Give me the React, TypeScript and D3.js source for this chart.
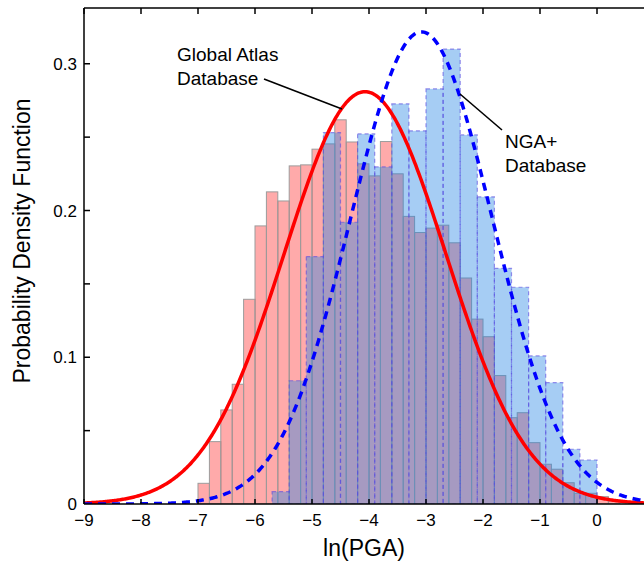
import React from 'react';
import * as d3 from 'd3';

// Global Atlas histogram: bin width 0.2, starting at ln(PGA) = -7.0
const atlasStart = -7.0;
const atlasWidth = 0.2;
const atlasDensity = [
  0.0141, 0.0425, 0.0641, 0.0816, 0.1395, 0.1895, 0.2127, 0.2065, 0.2304, 0.2311,
  0.2418, 0.2454, 0.2618, 0.2467, 0.2318, 0.2236, 0.247, 0.225, 0.196, 0.185,
  0.188, 0.19, 0.178, 0.154, 0.126, 0.114, 0.0875, 0.0588, 0.0622, 0.0418,
  0.0271, 0.0237, 0.0145, 0.0073, 0.0073, 0.005, 0.002,
];

// NGA+ histogram: bin width 0.3, starting at -5.7
const ngaStart = -5.7;
const ngaWidth = 0.3;
const ngaDensity = [
  0.0084, 0.084, 0.1686, 0.2531, 0.192, 0.2522, 0.2297, 0.2727, 0.2543, 0.2829,
  0.31, 0.2515, 0.2093, 0.1606, 0.1477, 0.1009, 0.0827, 0.0373, 0.03,
];

// fitted normal distributions (mean, std)
const atlasFit = { mu: -4.07, sigma: 1.42 };
const ngaFit = { mu: -3.08, sigma: 1.24 };

const xTicks = [-9, -8, -7, -6, -5, -4, -3, -2, -1, 0];
const yTickLabels = [0, 0.1, 0.2, 0.3];
const yMinorTicks = [0.05, 0.1, 0.15, 0.2, 0.25, 0.3];

const W = 644;
const H = 567;
const left = 84;
const right = 654;
const top = 8;
const bottom = 504;
const font = '"Liberation Sans", Arial, Helvetica, sans-serif';

function normalPdf(x: number, mu: number, sigma: number) {
  return Math.exp(-0.5 * ((x - mu) / sigma) ** 2) / (sigma * Math.sqrt(2 * Math.PI));
}

export default function App() {
  const x = d3.scaleLinear().domain([-9, 1]).range([left, right]);
  const y = d3.scaleLinear().domain([0, 0.338]).range([bottom, top]);

  const samples = d3.range(-9, 1.001, 0.02);
  const line = d3
    .line<number[]>()
    .x((d) => x(d[0]))
    .y((d) => y(d[1]))
    .curve(d3.curveLinear);
  const atlasPath = line(samples.map((v) => [v, normalPdf(v, atlasFit.mu, atlasFit.sigma)])) || '';
  const ngaPath = line(samples.map((v) => [v, normalPdf(v, ngaFit.mu, ngaFit.sigma)])) || '';

  const fmt = d3.format('');

  return (
    <svg
      width={W}
      height={H}
      style={{ position: 'absolute', left: 0, top: 0, background: '#fff' }}
      fontFamily={font}
    >
      <defs>
        <clipPath id="plot">
          <rect x={left} y={top} width={right - left} height={bottom - top} />
        </clipPath>
      </defs>

      <g clipPath="url(#plot)">
        {atlasDensity.map((d, i) => {
          const x0 = atlasStart + i * atlasWidth;
          return (
            <rect
              key={'a' + i}
              x={x(x0)}
              y={y(d)}
              width={x(x0 + atlasWidth) - x(x0)}
              height={y(0) - y(d)}
              fill="rgb(255,0,0)"
              fillOpacity={0.333}
              stroke="#9c9c9c"
              strokeWidth={1}
            />
          );
        })}
        {ngaDensity.map((d, i) => {
          const x0 = ngaStart + i * ngaWidth;
          return (
            <rect
              key={'n' + i}
              x={x(x0)}
              y={y(d)}
              width={x(x0 + ngaWidth) - x(x0)}
              height={y(0) - y(d)}
              fill="rgb(32,130,227)"
              fillOpacity={0.4}
              stroke="#5a4ae0"
              strokeOpacity={0.6}
              strokeWidth={1.2}
              strokeDasharray="4 3"
            />
          );
        })}

        <path d={atlasPath} fill="none" stroke="#ff0000" strokeWidth={3.5} />
        <path d={ngaPath} fill="none" stroke="#0000ff" strokeWidth={3.5} strokeDasharray="8 6" />
      </g>

      {/* axes frame */}
      <line x1={left} y1={top} x2={W} y2={top} stroke="#000" strokeWidth={1.5} />
      <line x1={left} y1={top} x2={left} y2={bottom} stroke="#000" strokeWidth={1.5} />
      <line x1={left} y1={bottom} x2={W} y2={bottom} stroke="#000" strokeWidth={1.5} />

      {xTicks.map((t) => (
        <g key={'xt' + t}>
          <line x1={x(t)} x2={x(t)} y1={top} y2={top + 6} stroke="#000" strokeWidth={1.5} />
          <line x1={x(t)} x2={x(t)} y1={bottom} y2={bottom - 5} stroke="#000" strokeWidth={1.5} />
          <text x={x(t)} y={bottom + 22} fontSize={17} textAnchor="middle">
            {fmt(t)}
          </text>
        </g>
      ))}

      {yMinorTicks.map((t) => (
        <line key={'ym' + t} x1={left} x2={left + 6} y1={y(t)} y2={y(t)} stroke="#000" strokeWidth={1.5} />
      ))}
      {yTickLabels.map((t) => (
        <text key={'yl' + t} x={left - 7} y={y(t) + 6} fontSize={17} textAnchor="end">
          {fmt(t)}
        </text>
      ))}

      <text x={364} y={556} fontSize={23} textAnchor="middle">
        ln(PGA)
      </text>
      <text
        transform={`translate(30, ${(top + bottom) / 2 - 15}) rotate(-90)`}
        fontSize={23}
        textAnchor="middle"
      >
        Probability Density Function
      </text>

      {/* annotations */}
      <text x={177} y={61} fontSize={19}>
        Global Atlas
      </text>
      <text x={177} y={85} fontSize={19}>
        Database
      </text>
      <line x1={264} y1={79} x2={342} y2={109} stroke="#000" strokeWidth={1.6} />

      <text x={505} y={148} fontSize={19}>
        NGA+
      </text>
      <text x={505} y={172} fontSize={19}>
        Database
      </text>
      <line x1={460} y1={94} x2={502} y2={130} stroke="#000" strokeWidth={1.6} />
    </svg>
  );
}
